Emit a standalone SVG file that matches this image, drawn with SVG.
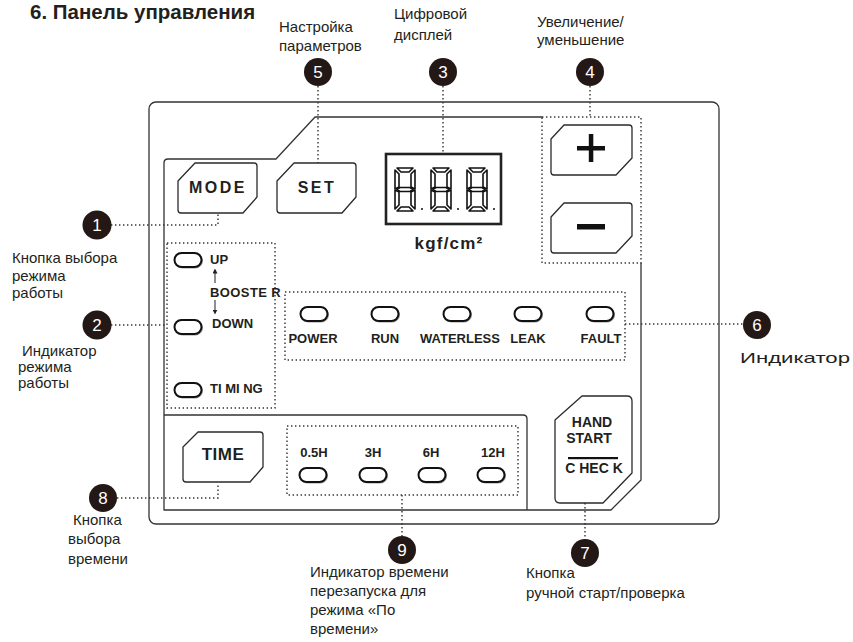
<svg xmlns="http://www.w3.org/2000/svg" xmlns:xlink="http://www.w3.org/1999/xlink" width="853" height="642" viewBox="0 0 853 642">
<style>
.lbl{font-family:"Liberation Sans",Arial,sans-serif;font-size:15px;fill:#231f20}
.ttl{font-family:"Liberation Sans",Arial,sans-serif;font-size:20.5px;font-weight:bold;fill:#231f20}
.btn{fill:#fff;stroke:#2a2a2a;stroke-width:1.3;stroke-linejoin:round}
.btxt{font-family:"Liberation Sans",Arial,sans-serif;font-weight:bold;fill:#231f20;text-anchor:middle}
.small{font-family:"Liberation Sans",Arial,sans-serif;font-weight:bold;font-size:13px;fill:#231f20}
.panel{fill:none;stroke:#333;stroke-width:1.3;stroke-linejoin:round}
.dot{fill:none;stroke:#333;stroke-width:1.4;stroke-dasharray:1.4 2.6}
.ball{fill:#231815}
.num{font-family:"Liberation Sans",Arial,sans-serif;font-size:17px;fill:#fff;text-anchor:middle}
.seg{fill:#fff;stroke:#111;stroke-width:1.6;stroke-linejoin:round}
</style>
<defs>
<g id="led">
<rect x="-12.5" y="-6" width="27" height="14" rx="7" fill="none" stroke="#999" stroke-width="1"/>
<rect x="-13.5" y="-7" width="27" height="14" rx="7" fill="#fff" stroke="#111" stroke-width="2"/>
</g>
<g id="digit">
<polygon class="seg" points="2,0 18,0 14,4 6,4"/>
<polygon class="seg" points="0,2 4,6 4,19 0,21"/>
<polygon class="seg" points="20,2 16,6 16,19 20,21"/>
<polygon class="seg" points="2,21.5 5,19.5 15,19.5 18,21.5 15,23.5 5,23.5"/>
<polygon class="seg" points="0,22 4,24 4,37 0,41"/>
<polygon class="seg" points="20,22 16,24 16,37 20,41"/>
<polygon class="seg" points="6,39 14,39 18,43 2,43"/>
</g>
<marker id="ah" viewBox="0 0 6 6" refX="3" refY="3" markerWidth="5" markerHeight="5" orient="auto">
<path d="M0,0 L6,3 L0,6 Z" fill="#231f20"/>
</marker>
</defs>
<rect width="853" height="642" fill="#fff"/>

<text class="ttl" x="30" y="19">6. Панель управления</text>

<g id="panel">
<rect class="panel" x="149" y="102" width="570" height="422" rx="7"/>
<path class="panel" d="M542,117 L315,117 L276,159 L168,159 Q164,159 164,163 L164,510 L611,510 L641,480 L641,263"/>
<path class="panel" d="M164,415 L523,415 Q527,415 527,419 L527,510"/>
</g>

<g id="connectors">
<path class="dot" d="M111,225 L218,225 L218,214"/>
<path class="dot" d="M111,325 L167,325"/>
<path class="dot" d="M443,86 L443,154"/>
<path class="dot" d="M590,86 L590,117"/>
<path class="dot" d="M318,86 L318,163"/>
<path class="dot" d="M625,324 L743,324"/>
<path class="dot" d="M585,503 L585,539"/>
<path class="dot" d="M117,498 L218,498 L218,483"/>
<path class="dot" d="M402,495 L402,536"/>
<rect class="dot" x="167" y="243" width="108" height="165"/>
<rect class="dot" x="285" y="292" width="340" height="68"/>
<rect class="dot" x="287" y="426" width="231" height="69"/>
<rect class="dot" x="542" y="117" width="99" height="146"/>
</g>

<g id="node-mode">
<path class="btn" d="M178,181 L195,163 L254,163 Q257,163 257,166 L257,197 L243,213 L181,213 Q178,213 178,210 Z"/>
<text class="btxt" x="218" y="193" font-size="16" letter-spacing="2.5">MODE</text>
</g>
<g id="node-set">
<path class="btn" d="M277,181 L294,163 L353,163 Q356,163 356,166 L356,197 L342,213 L280,213 Q277,213 277,210 Z"/>
<text class="btxt" x="317" y="193" font-size="16" letter-spacing="2.5">SET</text>
</g>
<g id="node-display">
<rect x="386" y="154" width="115" height="70" fill="#fff" stroke="#222" stroke-width="2.6"/>
<use xlink:href="#digit" x="395" y="168"/>
<use xlink:href="#digit" x="431" y="168"/>
<use xlink:href="#digit" x="467" y="168"/>
<circle cx="422" cy="209" r="1" fill="#111"/>
<circle cx="458" cy="209" r="1" fill="#111"/>
<circle cx="494" cy="209" r="1" fill="#111"/>
<text class="btxt" x="449" y="249" font-size="17" letter-spacing="1.2">kgf/cm²</text>
</g>
<g id="node-plus">
<path class="btn" d="M551,139 L564,125 L629,125 Q632,125 632,128 L632,158 L616,175 L554,175 Q551,175 551,172 Z"/>
<rect x="577" y="146" width="28" height="4.5" fill="#111"/>
<rect x="588.8" y="134" width="4.5" height="28" fill="#111"/>
</g>
<g id="node-minus">
<path class="btn" d="M551,217 L564,203 L629,203 Q632,203 632,206 L632,236 L616,253 L554,253 Q551,253 551,250 Z"/>
<rect x="577" y="224" width="28" height="5.5" fill="#111"/>
</g>
<g id="node-mode-indicators">
<use xlink:href="#led" x="188" y="260"/>
<use xlink:href="#led" x="188" y="327"/>
<use xlink:href="#led" x="188" y="390"/>
<text class="small" x="210" y="264">UP</text>
<text class="small" x="210" y="297" letter-spacing="0.4">BOOSTE R</text>
<text class="small" x="212" y="328">DOWN</text>
<text class="small" x="210" y="393">TI MI NG</text>
<line x1="215" y1="283" x2="215" y2="271" stroke="#231f20" stroke-width="1" marker-end="url(#ah)"/>
<line x1="215" y1="300" x2="215" y2="312" stroke="#231f20" stroke-width="1" marker-end="url(#ah)"/>
</g>
<g id="node-indicators">
<use xlink:href="#led" x="314" y="314"/>
<use xlink:href="#led" x="385" y="314"/>
<use xlink:href="#led" x="457" y="314"/>
<use xlink:href="#led" x="528" y="314"/>
<use xlink:href="#led" x="600" y="314"/>
<text class="small" x="313" y="343" text-anchor="middle">POWER</text>
<text class="small" x="385" y="343" text-anchor="middle">RUN</text>
<text class="small" x="460" y="343" text-anchor="middle">WATERLESS</text>
<text class="small" x="528" y="343" text-anchor="middle">LEAK</text>
<text class="small" x="601" y="343" text-anchor="middle">FAULT</text>
</g>
<g id="node-time">
<path class="btn" d="M183,447 L198,432 L260,432 Q263,432 263,435 L263,467 L250,482 L186,482 Q183,482 183,479 Z"/>
<text class="btxt" x="223" y="460" font-size="17" letter-spacing="0.5">TIME</text>
</g>
<g id="node-time-indicators">
<use xlink:href="#led" x="313" y="475"/>
<use xlink:href="#led" x="373" y="475"/>
<use xlink:href="#led" x="432" y="475"/>
<use xlink:href="#led" x="491" y="475"/>
<text class="small" x="314" y="457" text-anchor="middle" font-size="14">0.5H</text>
<text class="small" x="373" y="457" text-anchor="middle" font-size="14">3H</text>
<text class="small" x="431" y="457" text-anchor="middle" font-size="14">6H</text>
<text class="small" x="493" y="457" text-anchor="middle" font-size="14">12H</text>
</g>
<g id="node-hand-start">
<path class="btn" d="M555,420 L582,396 L627,396 Q632,396 632,401 L632,473 L603,503 L560,503 Q555,503 555,498 Z"/>
<text class="btxt" x="592" y="427" font-size="14">HAND</text>
<text class="btxt" x="589" y="443" font-size="14">START</text>
<rect x="568" y="457" width="50" height="2.2" fill="#111"/>
<text class="btxt" x="594" y="473" font-size="14">C HEC K</text>
</g>

<g id="callout-1"><circle class="ball" cx="97" cy="225" r="14.5"/><text class="num" x="97" y="231">1</text>
<text class="lbl" font-size="17"><tspan x="12" y="263">Кнопка выбора</tspan><tspan x="12" y="281">режима</tspan><tspan x="12" y="298">работы</tspan></text></g>
<g id="callout-2"><circle class="ball" cx="97" cy="325" r="14.5"/><text class="num" x="97" y="331">2</text>
<text class="lbl"><tspan x="22" y="356">Индикатор</tspan><tspan x="18" y="372">режима</tspan><tspan x="18" y="388">работы</tspan></text></g>
<g id="callout-3"><circle class="ball" cx="443" cy="72" r="14"/><text class="num" x="443" y="78">3</text>
<text class="lbl" font-size="16.5"><tspan x="394" y="19">Цифровой</tspan><tspan x="394" y="40">дисплей</tspan></text></g>
<g id="callout-4"><circle class="ball" cx="590" cy="72" r="14"/><text class="num" x="590" y="78">4</text>
<text class="lbl" font-size="14.6"><tspan x="537" y="27">Увеличение/</tspan><tspan x="537" y="45">уменьшение</tspan></text></g>
<g id="callout-5"><circle class="ball" cx="318" cy="72" r="14"/><text class="num" x="318" y="78">5</text>
<text class="lbl" font-size="16"><tspan x="279" y="32">Настройка</tspan><tspan x="279" y="51">параметров</tspan></text></g>
<g id="callout-6"><circle class="ball" cx="757" cy="325" r="14"/><text class="num" x="757" y="331">6</text>
<text class="lbl" x="740" y="363" font-size="25" textLength="110" lengthAdjust="spacingAndGlyphs">Индикатор</text></g>
<g id="callout-7"><circle class="ball" cx="585" cy="553" r="14"/><text class="num" x="585" y="559">7</text>
<text class="lbl" font-size="18"><tspan x="526" y="578">Кнопка</tspan><tspan x="526" y="598">ручной старт/проверка</tspan></text></g>
<g id="callout-8"><circle class="ball" cx="103" cy="498" r="14"/><text class="num" x="103" y="504">8</text>
<text class="lbl" font-size="16.5"><tspan x="73" y="525">Кнопка</tspan><tspan x="68" y="544">выбора</tspan><tspan x="68" y="564">времени</tspan></text></g>
<g id="callout-9"><circle class="ball" cx="402" cy="550" r="14"/><text class="num" x="402" y="556">9</text>
<text class="lbl" font-size="15.5"><tspan x="310" y="577">Индикатор времени</tspan><tspan x="310" y="596">перезапуска для</tspan><tspan x="310" y="615">режима «По</tspan><tspan x="310" y="634">времени»</tspan></text></g>
</svg>
